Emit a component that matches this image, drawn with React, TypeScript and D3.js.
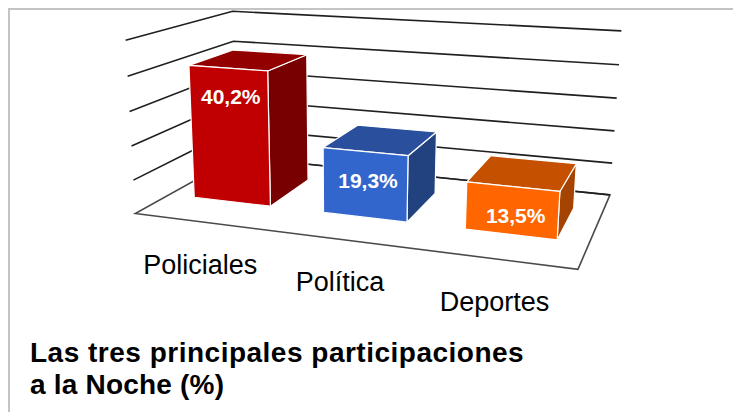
import React from 'react';
import * as d3 from 'd3';

// ---- data ----
const categories = ['Policiales', 'Política', 'Deportes'];
const values = [40.2, 19.3, 13.5];
const valueLabels = ['40,2%', '19,3%', '13,5%'];
const tickValues = [0, 10, 20, 30, 40, 50];
const frontColors = ['#C00000', '#3366CC', '#FF6600'];
const topColors = ['#920000', '#2A4F9C', '#C45000'];
const sideColors = ['#780000', '#22417F', '#A54300'];
const titleLines = ['Las tres principales participaciones', 'a la Noche (%)'];

// ---- projection calibration (layout): world [x, y, z] -> screen [px, py] ----
const calib: [number[], number[]][] = [
  [[0, 0, 0], [136, 213]],
  [[1, 0, 0], [578, 270]],
  [[1, 0, 1], [610, 194]],
  [[0, 0, 1], [236, 158]],
  [[0, 1, 1], [233, 11]],
  [[1, 1, 1], [621, 31]],
  [[0, 1, 0], [125, 41]],
  [[0, 0.8, 1], [234, 41]],
  [[0, 0.8, 0], [127, 76]],
  [[0, 0.6, 0], [130, 111]],
  [[0, 0.4, 0], [132, 146]],
  [[0, 0.2, 0], [133, 180]],
  [[1, 0.8, 1], [619, 65]],
  [[1, 0.6, 1], [617, 98]],
];

function solve(A: number[][], b: number[]): number[] {
  const n = b.length;
  const M = A.map((r, i) => [...r, b[i]]);
  for (let c = 0; c < n; c++) {
    let p = c;
    for (let r = c + 1; r < n; r++) if (Math.abs(M[r][c]) > Math.abs(M[p][c])) p = r;
    [M[c], M[p]] = [M[p], M[c]];
    for (let r = 0; r < n; r++) {
      if (r === c) continue;
      const f = M[r][c] / M[c][c];
      for (let k = c; k <= n; k++) M[r][k] -= f * M[c][k];
    }
  }
  return M.map((r, i) => r[n] / r[i]);
}

function fitProjection() {
  const rows: number[][] = [];
  const rhs: number[] = [];
  calib.forEach(([[x, y, z], [u, v]]) => {
    rows.push([x, y, z, 1, 0, 0, 0, 0, -u * x, -u * y, -u * z]);
    rhs.push(u);
    rows.push([0, 0, 0, 0, x, y, z, 1, -v * x, -v * y, -v * z]);
    rhs.push(v);
  });
  const AtA = Array.from({ length: 11 }, (_, i) =>
    Array.from({ length: 11 }, (_, j) => rows.reduce((s, r) => s + r[i] * r[j], 0))
  );
  const Atb = Array.from({ length: 11 }, (_, i) => rows.reduce((s, r, k) => s + r[i] * rhs[k], 0));
  return solve(AtA, Atb);
}

const m = fitProjection();
const project = (x: number, y: number, z: number): [number, number] => {
  const w = m[8] * x + m[9] * y + m[10] * z + 1;
  return [(m[0] * x + m[1] * y + m[2] * z + m[3]) / w, (m[4] * x + m[5] * y + m[6] * z + m[7]) / w];
};

const xScale = d3.scaleBand<string>().domain(categories).range([0, 1]).paddingInner(0.4).paddingOuter(0.2);
const yScale = d3.scaleLinear().domain([0, 50]).range([0, 1]);
const zFront = 0.3;
const zBack = 0.74;

const line = d3.line<[number, number]>();
const poly = (pts: number[][]) => line(pts.map((p) => project(p[0], p[1], p[2]))) + 'Z';

export default function App() {
  const W = 733;
  const H = 412;
  return (
    <div style={{ position: 'fixed', left: 0, top: 0 }}>
      <svg width={W} height={H} style={{ display: 'block', background: '#fff' }}>
        <rect x={9} y={9} width={W + 20} height={H + 20} fill="#fff" stroke="#c4c4c4" strokeWidth={2} />
        {/* floor */}
        <path d={poly([[0, 0, 0], [1, 0, 0], [1, 0, 1], [0, 0, 1]])} fill="#fff" stroke="#4a4a4a" strokeWidth={1.6} />
        {/* gridlines: left wall and back wall */}
        {tickValues.slice(1).map((t) => {
          const y = yScale(t);
          return (
            <path key={t} d={line([project(0, y, 0), project(0, y, 1), project(1, y, 1)])!} fill="none" stroke="#1f1f1f" strokeWidth={1.6} />
          );
        })}
        <path d={line([project(0, 0, 1), project(1, 0, 1)])!} fill="none" stroke="#1f1f1f" strokeWidth={1.6} />
        {/* bars */}
        {categories.map((c, i) => {
          const x0 = xScale(c)!;
          const x1 = x0 + xScale.bandwidth();
          const h = yScale(values[i]);
          const xc = (x0 + x1) / 2;
          const [lx, ly] = project(xc, h, zFront);
          return (
            <g key={c} stroke="#fff" strokeWidth={1.2} strokeLinejoin="round">
              <path d={poly([[x1, 0, zFront], [x1, 0, zBack], [x1, h, zBack], [x1, h, zFront]])} fill={sideColors[i]} />
              <path d={poly([[x0, h, zFront], [x1, h, zFront], [x1, h, zBack], [x0, h, zBack]])} fill={topColors[i]} />
              <path d={poly([[x0, 0, zFront], [x1, 0, zFront], [x1, h, zFront], [x0, h, zFront]])} fill={frontColors[i]} />
              <text x={lx + 3} y={ly + 36} textAnchor="middle" fill="#fff" stroke="none"
                style={{ font: 'bold 21px "Liberation Sans", Arial, sans-serif' }}>{valueLabels[i]}</text>
            </g>
          );
        })}
        {/* category labels */}
        {categories.map((c) => {
          const xc = xScale(c)! + xScale.bandwidth() / 2;
          const [px, py] = project(xc, 0, 0);
          return (
            <text key={c} x={px} y={py + 52} textAnchor="middle" fill="#000"
              style={{ font: '27px "Liberation Sans", Arial, sans-serif' }}>{c}</text>
          );
        })}
        {/* title */}
        {titleLines.map((t, i) => (
          <text key={i} x={30} y={362 + i * 32} fill="#000" letterSpacing={i === 0 ? 0.5 : 0.2}
            style={{ font: 'bold 28px "Liberation Sans", Arial, sans-serif' }}>{t}</text>
        ))}
      </svg>
    </div>
  );
}
